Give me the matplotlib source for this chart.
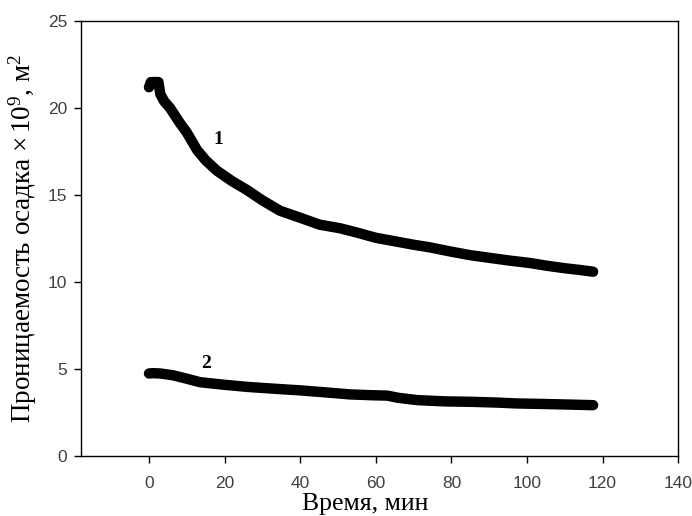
import matplotlib
matplotlib.use('Agg')
import matplotlib.pyplot as plt

# curve 1: permeability
t1 = [0.0, 0.5, 1.5, 2.5, 3.0, 4.0, 5.6, 8.0, 10.0, 12.7, 15.0, 18.0, 22.0, 25.9, 30.0,
      34.7, 40.0, 45.2, 50.5, 55.0, 60.0, 65.0, 70.0, 74.3, 80.0, 85.0, 90.0, 95.0,
      100.8, 105.0, 110.0, 114.0, 117.5]
k1 = [21.2, 21.5, 21.5, 21.5, 20.8, 20.4, 20.0, 19.2, 18.6, 17.6, 17.0, 16.4, 15.8, 15.3, 14.7,
      14.1, 13.7, 13.3, 13.1, 12.85, 12.55, 12.35, 12.15, 12.0, 11.75, 11.55, 11.4, 11.25,
      11.1, 10.95, 10.8, 10.7, 10.6]

# curve 2
t2 = [0.0, 1.0, 3.0, 6.3, 10.0, 13.5, 20.0, 26.0, 32.8, 40.0, 47.0, 53.0, 59.0, 63.0,
      66.0, 71.0, 78.0, 85.7, 92.0, 97.0, 104.0, 110.0, 117.5]
k2 = [4.75, 4.77, 4.75, 4.65, 4.45, 4.25, 4.1, 3.98, 3.88, 3.78, 3.66, 3.55, 3.5, 3.48,
      3.35, 3.22, 3.15, 3.12, 3.08, 3.03, 3.0, 2.97, 2.93]

x_ticks = [0, 20, 40, 60, 80, 100, 120, 140]
y_ticks = [0, 5, 10, 15, 20, 25]

plt.rcParams['mathtext.fontset'] = 'custom'
plt.rcParams['mathtext.rm'] = 'Liberation Serif'
plt.rcParams['mathtext.it'] = 'Liberation Serif:italic'

fig = plt.figure(figsize=(6.92, 5.16), dpi=100)
ax = fig.add_axes([0.117, 0.116, 0.863, 0.843])

ax.plot(t1, k1, '-', color='black', lw=7.5, solid_capstyle='round', solid_joinstyle='round')
ax.plot(t2, k2, '-', color='black', lw=7.5, solid_capstyle='round', solid_joinstyle='round')

ax.text(18.3, 18.2, '1', fontsize=14, fontweight='bold', family='Liberation Serif', ha='center', va='center')
ax.text(15.0, 5.3, '2', fontsize=14, fontweight='bold', family='Liberation Serif', ha='center', va='center')

ax.set_xlim(-18, 140)
ax.set_ylim(0, 25)
ax.set_xticks(x_ticks)
ax.set_yticks(y_ticks)
ax.tick_params(direction='out', length=5, width=1, labelsize=12.5, labelcolor='#404040',
               top=False, right=False)
ax.tick_params(axis='x', pad=9)
ax.tick_params(axis='y', pad=5)
for lab in ax.get_xticklabels() + ax.get_yticklabels():
    lab.set_family('Liberation Sans')
for s in ax.spines.values():
    s.set_linewidth(1.0)

ax.set_xlabel('Время, мин', family='Liberation Serif', fontsize=18.5, labelpad=0)
ax.xaxis.set_label_coords(0.476, -0.085)
ax.set_ylabel('Проницаемость осадка $\\times\\, 10^9$, м$^2$', family='Liberation Serif', fontsize=19.5,
              labelpad=6)

fig.savefig('out.png', dpi=100)
